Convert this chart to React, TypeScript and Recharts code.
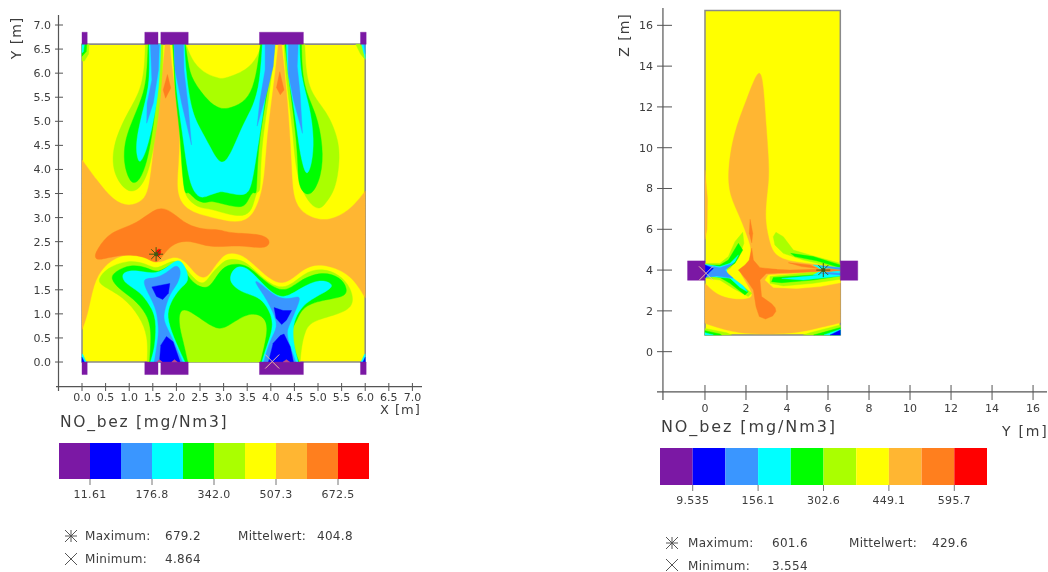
import React from "react";
import { Bar, BarChart, ReferenceLine, Scatter, ScatterChart, XAxis, YAxis } from "recharts";

type P = [number, number];
type Layer = [P[], string, boolean?];

const COLORS = {
  purple: "#7b18a4",
  blue: "#0000ff",
  lblue: "#3a96ff",
  cyan: "#00ffff",
  green: "#00ff00",
  lime: "#aaff00",
  yellow: "#ffff00",
  amber: "#ffb632",
  orange: "#ff7f1e",
  red: "#ff0000",
};
const legendColors = Object.values(COLORS);
const legendSteps = [1, 1, 1, 1, 1, 1, 1, 1, 1, 1];
const legendTickSteps = [1, 3, 5, 7, 9];
const legendLabelsXY = ["11.61", "176.8", "342.0", "507.3", "672.5"];
const legendLabelsYZ = ["9.535", "156.1", "302.6", "449.1", "595.7"];

const ticksXY = [0, 0.5, 1, 1.5, 2, 2.5, 3, 3.5, 4, 4.5, 5, 5.5, 6, 6.5, 7];
const ticksYZ = [0, 2, 4, 6, 8, 10, 12, 14, 16];

// ---- X/Y section, values in metres ----
const xyBox: P[] = [[0, 0], [6, 0], [6, 6.6], [0, 6.6]];
const xyAmber: P[] = [[0, 4.2], [0.31, 3.78], [0.66, 3.35], [1, 3.22], [1.3, 3.35], [1.41, 3.58], [1.48, 4.06], [1.55, 4.75], [1.62, 5.44], [1.72, 6.14], [1.76, 6.6], [1.86, 6.6], [1.9, 6.14], [2, 5.44], [2.08, 4.75], [2.04, 4.06], [2, 3.57], [2.11, 3.27], [2.36, 3.1], [2.64, 3.03], [3.06, 2.92], [3.4, 2.9], [3.65, 3.07], [3.83, 3.58], [3.88, 4.06], [3.93, 4.75], [4.02, 5.44], [4.11, 6.14], [4.16, 6.6], [4.23, 6.6], [4.28, 6.14], [4.35, 5.44], [4.4, 4.75], [4.44, 4.06], [4.46, 3.58], [4.54, 3.23], [4.83, 2.99], [5.25, 2.92], [5.67, 3.16], [5.85, 3.36], [6, 3.55], [6, 1.33], [5.9, 1.5], [5.65, 1.85], [5.1, 2.05], [4.7, 1.98], [4.25, 1.5], [3.75, 1.92], [3.4, 2.25], [3.06, 2.28], [2.92, 2.12], [2.78, 1.95], [2.64, 1.73], [2.43, 1.78], [2.2, 2.1], [1.93, 2.23], [1.58, 1.99], [1.3, 2.27], [0.8, 2.23], [0.45, 1.99], [0.24, 1.63], [0.13, 1.01], [0, 0.67]];
const xyOrange: P[] = [[0.27, 2.2], [0.31, 2.32], [0.59, 2.72], [1.16, 2.85], [1.62, 3.27], [1.93, 3.1], [2.22, 2.85], [2.57, 2.75], [2.92, 2.76], [3.13, 2.67], [3.77, 2.67], [4.02, 2.53], [3.9, 2.33], [3.34, 2.44], [2.71, 2.36], [2.29, 2.54], [1.93, 2.47], [1.72, 2.23], [1.58, 2.02], [1.37, 2.17], [1.09, 2.23], [0.66, 2.2], [0.31, 2.1]];
const xyRed: P[] = [[1.52, 2.2], [1.6, 2.36], [1.68, 2.34], [1.66, 2.18]];
const xyFlameL: P[] = [[1.81, 5.97], [1.88, 5.69], [1.77, 5.48], [1.72, 5.65]];
const xyFlameR: P[] = [[4.19, 6.03], [4.28, 5.65], [4.2, 5.55], [4.12, 5.7]];

const xyLimeLow: P[] = [[1.38, 0], [1.4, 0.53], [1.23, 0.94], [0.88, 1.36], [0.38, 1.6], [0.34, 1.72], [0.52, 1.95], [0.95, 2.12], [1.37, 2.05], [1.58, 1.9], [1.93, 2.15], [2.15, 2.02], [2.43, 1.65], [2.6, 1.62], [2.75, 1.85], [2.95, 2.05], [3.1, 2.15], [3.45, 2.12], [3.73, 1.82], [4.26, 1.42], [4.7, 1.87], [5.1, 1.95], [5.45, 1.82], [5.7, 1.55], [5.78, 1.15], [5.4, 0.98], [4.85, 0.85], [4.72, 0.63], [4.65, 0.32], [4.62, 0]];
const xyGreenLow: P[] = [[1.43, 0], [1.48, 0.66], [1.37, 1.01], [1.09, 1.32], [0.8, 1.5], [0.59, 1.74], [0.7, 1.88], [1.02, 2.03], [1.37, 1.97], [1.62, 1.83], [1.9, 2.06], [2.11, 2.01], [2.29, 1.7], [2.5, 1.55], [2.71, 1.53], [2.92, 1.91], [3.13, 2.04], [3.48, 2.04], [3.76, 1.77], [4.26, 1.39], [4.6, 1.7], [5.09, 1.89], [5.48, 1.76], [5.62, 1.53], [5.59, 1.35], [5.09, 1.29], [4.66, 1.15], [4.55, 0.84], [4.41, 0.66], [4.5, 0.25], [4.6, 0], [3.78, 0], [3.95, 0.66], [3.88, 0.94], [3.56, 1.05], [3.13, 0.77], [2.92, 0.66], [2.64, 0.8], [2.08, 1.22], [2.04, 0.8], [2.14, 0.45], [2.24, 0]];
const xyCyanLowL: P[] = [[0.84, 1.79], [0.91, 1.88], [1.16, 1.91], [1.58, 1.81], [1.86, 2.01], [2.04, 2.15], [2.18, 2.01], [2.29, 1.67], [2.08, 1.55], [1.86, 1.22], [1.79, 0.94], [1.93, 0.53], [2.18, 0], [1.45, 0], [1.55, 0.32], [1.58, 0.91], [1.44, 1.18], [1.23, 1.46], [0.91, 1.63]];
const xyBlueLowL: P[] = [[1.23, 1.76], [1.58, 1.72], [1.86, 1.91], [2, 2.03], [2.11, 1.91], [2.04, 1.63], [1.86, 1.43], [1.76, 1.11], [1.72, 0.91], [1.79, 0.73], [2, 0.32], [2.13, 0], [1.53, 0], [1.62, 0.53], [1.62, 0.73], [1.58, 1.08], [1.44, 1.36]];
const xyDeepL1: P[] = [[1.48, 1.56], [1.86, 1.63], [1.83, 1.43], [1.71, 1.3], [1.58, 1.36]];
const xyDeepL2: P[] = [[1.64, 0], [1.67, 0.35], [1.79, 0.53], [1.93, 0.42], [2.08, 0]];
const xyCyanLowR: P[] = [[3.12, 1.77], [3.24, 1.98], [3.45, 1.99], [3.66, 1.81], [3.95, 1.49], [4.26, 1.29], [4.62, 1.53], [5.04, 1.74], [5.39, 1.6], [5.11, 1.43], [4.62, 1.18], [4.41, 0.66], [4.58, 0], [3.81, 0], [3.91, 0.32], [4.09, 0.8], [3.91, 1.18], [3.73, 1.36], [3.42, 1.43], [3.17, 1.6]];
const xyBlueLowR: P[] = [[3.63, 1.69], [3.73, 1.69], [4.23, 1.22], [4.67, 1.43], [4.56, 1.15], [4.41, 0.8], [4.32, 0.62], [4.41, 0.32], [4.53, 0], [3.85, 0], [3.98, 0.46], [4.16, 0.73], [4.06, 1.01], [3.88, 1.36]];
const xyDeepR1: P[] = [[4.07, 1.13], [4.26, 1.07], [4.44, 1.07], [4.33, 0.87], [4.23, 0.78], [4.11, 0.91]];
const xyDeepR2: P[] = [[3.95, 0], [4.05, 0.39], [4.2, 0.55], [4.28, 0.58], [4.41, 0.32], [4.48, 0]];

const xyLimeTopL: P[] = [[1.34, 6.6], [1.31, 5.72], [0.95, 5.17], [0.63, 4.47], [0.66, 3.85], [1.05, 3.42], [1.37, 3.78], [1.51, 4.4], [1.65, 5.3], [1.71, 6.14], [1.72, 6.6]];
const xyGreenTopL: P[] = [[1.4, 6.6], [1.37, 5.8], [1.23, 5.38], [0.98, 4.82], [0.89, 4.47], [0.89, 4.06], [1.05, 3.66], [1.23, 3.78], [1.37, 4.13], [1.48, 4.68], [1.58, 5.44], [1.65, 6.6]];
const xyCyanTopL: P[] = [[1.42, 6.6], [1.44, 5.79], [1.31, 5.31], [1.14, 4.61], [1.16, 4.26], [1.23, 4.1], [1.37, 4.4], [1.51, 4.96], [1.64, 5.72], [1.67, 6.6]];
const xyBlueTopL: P[] = [[1.45, 6.6], [1.48, 5.86], [1.38, 5.38], [1.37, 4.96], [1.51, 5.38], [1.62, 6.07], [1.64, 6.6]];

const xyLimeMid: P[] = [[2.2, 6.6], [2.36, 6.2], [2.64, 5.97], [2.92, 5.89], [3, 5.88], [3.49, 6.05], [3.73, 6.35], [3.8, 6.6], [4.09, 6.6], [4.04, 6.14], [3.95, 5.44], [3.84, 4.75], [3.78, 4.06], [3.78, 3.49], [3.7, 3.58], [3.63, 3.23], [3.49, 3.02], [3.13, 3.05], [2.71, 3.19], [2.5, 3.19], [2.25, 3.36], [2.15, 3.57], [2.15, 4.05], [2.11, 4.75], [2, 5.58], [1.97, 6.14], [1.93, 6.6]];
const xyGreenMid: P[] = [[2.19, 6.6], [2.25, 6.2], [2.32, 5.86], [2.71, 5.37], [2.92, 5.27], [3.06, 5.25], [3.42, 5.37], [3.63, 5.68], [3.73, 6.2], [3.78, 6.6], [4.05, 6.6], [4, 6.14], [3.9, 5.44], [3.77, 4.75], [3.71, 4.06], [3.7, 3.42], [3.63, 3.58], [3.52, 3.36], [3.42, 3.19], [3.06, 3.26], [2.71, 3.36], [2.64, 3.29], [2.39, 3.36], [2.25, 3.57], [2.18, 3.43], [2.11, 4.05], [2.08, 4.75], [1.97, 5.58], [1.95, 6.14], [1.92, 6.6]];
const xyCyanMid: P[] = [[2.17, 6.6], [2.2, 6], [2.32, 5.2], [2.5, 4.85], [2.7, 4.5], [2.96, 4], [3.2, 4.42], [3.42, 4.96], [3.63, 5.31], [3.77, 5.8], [3.82, 6.6], [4.02, 6.6], [3.97, 6.14], [3.88, 5.44], [3.77, 4.75], [3.66, 4.06], [3.59, 3.67], [3.48, 3.42], [3, 3.54], [2.92, 3.54], [2.71, 3.47], [2.5, 3.38], [2.32, 3.6], [2.22, 4.05], [2.13, 4.75], [2, 5.58], [1.97, 6.14], [1.95, 6.6]];
const xyBlueMidL: P[] = [[1.95, 6.6], [1.97, 6.07], [2.11, 5.38], [2.32, 4.51], [2.25, 5.31], [2.16, 6.07], [2.15, 6.6]];
const xyBlueMidR: P[] = [[3.88, 6.6], [4.09, 6.6], [4.05, 6.14], [3.93, 5.65], [3.71, 4.9], [3.77, 5.44], [3.88, 6.07]];

const xyLimeTopR: P[] = [[4.28, 6.6], [4.72, 6.6], [4.76, 5.65], [5.18, 5.24], [5.48, 4.54], [5.43, 3.92], [5.35, 3.58], [5.21, 3.36], [5.04, 3.14], [4.83, 3.28], [4.65, 3.58], [4.52, 4.06], [4.47, 4.75], [4.38, 5.44], [4.3, 6.14]];
const xyGreenTopR: P[] = [[4.3, 6.6], [4.65, 6.6], [4.67, 5.72], [4.97, 5.17], [5.11, 4.47], [5.08, 3.85], [4.83, 3.38], [4.58, 3.62], [4.58, 4.06], [4.53, 4.75], [4.44, 5.44], [4.35, 6.14]];
const xyCyanTopR: P[] = [[4.33, 6.6], [4.61, 6.6], [4.63, 5.93], [4.83, 5.31], [4.92, 4.61], [4.87, 4.12], [4.76, 3.82], [4.65, 4.19], [4.58, 4.61], [4.48, 5.38], [4.35, 6]];
const xyBlueTopR: P[] = [[4.37, 6.6], [4.58, 6.6], [4.56, 6.14], [4.62, 5.58], [4.67, 4.75], [4.48, 5.44], [4.37, 6]];

const xyCorners: Layer[] = [
  [[[0, 6.6], [0.15, 6.6], [0.14, 6.4], [0.05, 6.25], [0, 6.25]], COLORS.lime, true],
  [[[0, 6.6], [0.1, 6.6], [0.09, 6.45], [0, 6.35]], COLORS.green, true],
  [[[0, 6.6], [0.05, 6.6], [0.03, 6.45], [0, 6.42]], COLORS.cyan, true],
  [[[5.8, 6.6], [6, 6.6], [6, 6.28], [5.9, 6.4]], COLORS.lime, true],
  [[[5.92, 6.6], [6, 6.6], [6, 6.3]], COLORS.cyan, true],
  [[[5.97, 6.6], [6, 6.6], [6, 6.4]], COLORS.lblue, true],
  [[[0, 0], [0.09, 0], [0.02, 0.15], [0, 0.17]], COLORS.cyan, true],
  [[[0, 0], [0.05, 0], [0, 0.1]], COLORS.blue, true],
  [[[6, 0], [5.91, 0], [5.98, 0.15], [6, 0.17]], COLORS.cyan, true],
  [[[6, 0], [5.95, 0], [6, 0.1]], COLORS.blue, true],
];
const xyInletSpans: P[] = [[0, 0.11], [1.33, 1.61], [1.67, 2.25], [3.76, 4.69], [5.9, 6.02]];
const xyInletRows: P[] = [[6.6, 6.85], [-0.26, 0]];
const xyNozzleBumps: P[] = [[1.58, 1.7], [1.9, 2.02], [4.26, 4.4]];

const xyLayers: Layer[] = [
  [xyAmber, COLORS.amber],
  [xyOrange, COLORS.orange],
  [xyRed, COLORS.red],
  [xyFlameL, COLORS.orange, true],
  [xyFlameR, COLORS.orange, true],
  [xyLimeLow, COLORS.lime],
  [xyGreenLow, COLORS.green],
  [xyCyanLowL, COLORS.cyan],
  [xyCyanLowR, COLORS.cyan],
  [xyBlueLowL, COLORS.lblue],
  [xyBlueLowR, COLORS.lblue],
  [xyDeepL1, COLORS.blue, true],
  [xyDeepL2, COLORS.blue, true],
  [xyDeepR1, COLORS.blue, true],
  [xyDeepR2, COLORS.blue, true],
  [xyLimeTopL, COLORS.lime],
  [xyGreenTopL, COLORS.green],
  [xyCyanTopL, COLORS.cyan],
  [xyBlueTopL, COLORS.lblue, true],
  [xyLimeMid, COLORS.lime],
  [xyGreenMid, COLORS.green],
  [xyCyanMid, COLORS.cyan],
  [xyBlueMidL, COLORS.lblue, true],
  [xyBlueMidR, COLORS.lblue, true],
  [xyLimeTopR, COLORS.lime],
  [xyGreenTopR, COLORS.green],
  [xyCyanTopR, COLORS.cyan],
  [xyBlueTopR, COLORS.lblue, true],
  ...xyCorners,
  ...xyInletRows.flatMap((row) =>
    xyInletSpans.map((s): Layer => [[[s[0], row[0]], [s[1], row[0]], [s[1], row[1]], [s[0], row[1]]], COLORS.purple, true])
  ),
  ...xyNozzleBumps.map((s): Layer => [[[s[0], 0], [(s[0] + s[1]) / 2, 0.05], [s[1], 0]], "#b84a8c", true]),
];

// ---- Y/Z section, values in metres ----
const yzBox: P[] = [[0, 0.82], [6.6, 0.82], [6.6, 16.73], [0, 16.73]];
const yzAmber: P[] = [[2.65, 14.05], [2.03, 12.34], [1.38, 10.7], [1.09, 8.74], [1.22, 7.6], [1.71, 6.62], [2.2, 5.31], [2.28, 4.9], [2.07, 4.08], [1.6, 4.08], [1.95, 3.5], [2.33, 2.86], [2.28, 2.6], [1.54, 2.53], [0.73, 2.7], [0.24, 3.1], [0, 3.35], [0, 1.39], [0.73, 1.14], [1.87, 0.85], [4.15, 0.85], [5.45, 1.14], [6.6, 1.42], [6.6, 4.17], [4.8, 4.33], [3.66, 4.53], [3.25, 4.98], [3.09, 5.64], [2.93, 6.45], [3, 7.6], [3.17, 8.74], [2.98, 11.03], [2.85, 13.16]];
const yzEdgeStrip: P[] = [[0, 8.9], [0.12, 7.5], [0.1, 6], [0, 5.5]];
const yzYellowLobe: P[] = [[2.93, 3.51], [3.09, 3.76], [4.8, 3.85], [6.6, 4.0], [6.6, 3.38], [5.6, 3.19], [4.47, 3.1], [3.33, 3.15]];
const yzOrange: P[] = [[2.28, 5.07], [2.36, 4.49], [2.68, 4.12], [3.5, 4.03], [3.5, 3.86], [3, 3.84], [2.68, 3.51], [2.76, 2.7], [3.25, 2.35], [3.42, 2.15], [3.46, 1.98], [3.3, 1.75], [2.95, 1.6], [2.65, 1.72], [2.49, 2.2], [2.36, 3.02], [2.03, 3.51], [1.63, 4], [1.95, 4.25], [2.16, 4.49]];
const yzStreamMid: P[] = [[3, 4.05], [4.15, 4], [5.53, 4.04], [6.6, 3.97], [5.53, 3.93], [4.15, 3.87], [3, 3.84]];
const yzStreak: P[] = [[2.2, 6.49], [2.33, 5.8], [2.28, 5.34], [2.16, 5.8]];
const yzStreamUp: P[] = [[4.07, 4.36], [5.12, 4.25], [5.53, 4.08], [4.72, 4.17]];
const yzLimeUp: P[] = [[3.46, 5.85], [3.82, 5.64], [4.31, 4.98], [5.12, 4.74], [6.6, 4.33], [6.6, 4.08], [4.8, 4.49], [3.82, 4.82], [3.41, 5.23], [3.33, 5.64]];
const yzGreenUp: P[] = [[4.18, 4.82], [5.28, 4.66], [6.6, 4.25], [6.6, 4.12], [5.44, 4.46], [4.39, 4.66]];
const yzLimeLow: P[] = [[3.17, 3.68], [5.28, 3.9], [6.6, 3.97], [6.6, 3.55], [5.28, 3.35], [3.82, 3.22], [3.17, 3.35]];
const yzGreenLow: P[] = [[3.33, 3.64], [5.28, 3.76], [6.6, 3.9], [6.6, 3.71], [5.28, 3.51], [3.74, 3.38], [3.25, 3.43]];
const yzCyanLow: P[] = [[3.74, 3.59], [6.6, 3.84], [6.6, 3.71], [4.8, 3.51]];
const yzCyanWall: P[] = [[5.28, 4.25], [6.6, 4.12], [6.6, 3.72], [5.28, 3.76], [5.7, 4]];
const yzBlueWallUp: P[] = [[5.61, 4.2], [6.6, 4.12], [6.6, 4.02], [6, 4.12]];
const yzBlueWallLow: P[] = [[5.61, 3.85], [6.6, 3.76], [6.6, 3.85], [6, 3.88]];
const yzCore: P[] = [[5.6, 4], [6, 4.08], [6.6, 4], [6, 3.92]];
const yzLimeL: P[] = [[1.84, 5.85], [1.9, 5.31], [1.63, 4.57], [1.22, 4.08], [0.73, 3.81], [1.3, 3.6], [1.95, 3.15], [2.28, 2.86], [2.11, 2.7], [1.38, 3.1], [0.73, 3.51], [0, 3.6], [0, 4.33], [0.73, 4.33], [1.14, 4.66], [1.46, 5.39]];
const yzGreenL: P[] = [[1.63, 5.31], [1.84, 4.98], [1.46, 4.33], [1.06, 4.08], [0.73, 3.85], [1.54, 3.43], [2.11, 2.94], [1.95, 2.78], [1.22, 3.35], [0.73, 3.64], [0, 3.76], [0, 4.25], [0.73, 4.25], [1.14, 4.49]];
const yzCyanL: P[] = [[1.63, 4.74], [1.46, 4.41], [1.06, 4.08], [1.06, 3.84], [1.87, 3.22], [2.07, 2.94], [1.71, 3.15], [1.22, 3.6], [0, 3.71], [0, 4.28], [0.73, 4.17], [1.22, 4.33]];
const yzBlueL: P[] = [[1.38, 4.33], [0.98, 4], [1.14, 3.81], [1.38, 3.6], [0.57, 3.71], [0, 3.64], [0, 4.25], [0.73, 4.12]];
const yzDeepL: P[] = [[0, 4.25], [0.41, 4.08], [0.16, 3.84], [0, 3.6]];
const yzCorners: Layer[] = [
  [[[0, 1.14], [1.06, 0.93], [1.3, 0.82], [0, 0.82]], COLORS.lime, true],
  [[[0, 1.03], [0.73, 0.87], [0.8, 0.82], [0, 0.82]], COLORS.green, true],
  [[[0, 0.93], [0.41, 0.82], [0, 0.82]], COLORS.cyan, true],
  [[[6.6, 1.31], [5.12, 0.93], [4.8, 0.82], [6.6, 0.82]], COLORS.lime, true],
  [[[6.6, 1.18], [5.6, 0.9], [5.3, 0.82], [6.6, 0.82]], COLORS.green, true],
  [[[6.6, 1.1], [5.8, 0.82], [6.6, 0.82]], COLORS.cyan, true],
  [[[6.6, 1.06], [6.1, 0.82], [6.6, 0.82]], COLORS.blue, true],
];
const yzInletL: P[] = [[-0.85, 3.5], [0, 3.5], [0, 4.45], [-0.85, 4.45]];
const yzInletR: P[] = [[6.6, 3.5], [7.45, 3.5], [7.45, 4.45], [6.6, 4.45]];

const yzLayers: Layer[] = [
  [yzAmber, COLORS.amber],
  [yzEdgeStrip, COLORS.amber, true],
  [yzYellowLobe, COLORS.yellow, true],
  [yzLimeUp, COLORS.lime, true],
  [yzGreenUp, COLORS.green, true],
  [yzLimeLow, COLORS.lime, true],
  [yzGreenLow, COLORS.green, true],
  [yzCyanLow, COLORS.cyan, true],
  [yzCyanWall, COLORS.cyan, true],
  [yzBlueWallUp, COLORS.lblue, true],
  [yzBlueWallLow, COLORS.lblue, true],
  [yzOrange, COLORS.orange, true],
  [yzStreamMid, COLORS.orange, true],
  [yzStreak, COLORS.orange, true],
  [yzStreamUp, COLORS.orange, true],
  [yzCore, COLORS.orange, true],
  [yzLimeL, COLORS.lime, true],
  [yzGreenL, COLORS.green, true],
  [yzCyanL, COLORS.cyan, true],
  [yzBlueL, COLORS.lblue, true],
  [yzDeepL, COLORS.blue, true],
  ...yzCorners,
  [yzInletL, COLORS.purple, true],
  [yzInletR, COLORS.purple, true],
];

const TEXT = "#3c3c3c";
const FONT = "'DejaVu Sans', sans-serif";
const noPoint = () => <g />;
const toRows = (pts: P[]) => pts.map(([x, y]) => ({ x, y }));

// points on the box edge are repeated so the smoothed outline still reaches the edge
function pinned(pts: P[], box: P[]) {
  const xs = box.map((p) => p[0]);
  const ys = box.map((p) => p[1]);
  return pts.flatMap((p) => {
    const edge = xs.includes(p[0]) || ys.includes(p[1]);
    return edge ? [p, p, p] : [p];
  });
}

function starMark(color: string, r: number) {
  return (p: any) => (
    <g stroke={color} strokeWidth={1}>
      <line x1={p.cx - r} x2={p.cx + r} y1={p.cy} y2={p.cy} />
      <line x1={p.cx - r * 0.7} x2={p.cx + r * 0.7} y1={p.cy - r * 0.7} y2={p.cy + r * 0.7} />
      <line x1={p.cx - r * 0.7} x2={p.cx + r * 0.7} y1={p.cy + r * 0.7} y2={p.cy - r * 0.7} />
      <line x1={p.cx} x2={p.cx} y1={p.cy - r} y2={p.cy + r} />
      <circle cx={p.cx} cy={p.cy} r={2} fill={color} stroke="none" />
    </g>
  );
}
function crossMark(color: string, r: number) {
  return (p: any) => (
    <g stroke={color} strokeWidth={1}>
      <line x1={p.cx - r} x2={p.cx + r} y1={p.cy - r} y2={p.cy + r} />
      <line x1={p.cx - r} x2={p.cx + r} y1={p.cy + r} y2={p.cy - r} />
    </g>
  );
}

function Panel(props: any) {
  const { left, width, height, margin, xDomain, yDomain, ticks, digits, xLine, yLine, box, layers, maxAt, minAt, xt, yt, topEdge } = props;
  const xTick = (p: any) => (
    <g>
      <line x1={p.x} x2={p.x} y1={p.y - xt.up} y2={p.y + xt.down} stroke="#555" />
      <text x={p.x} y={p.y + xt.label} textAnchor="middle" fontSize={11} fontFamily={FONT} fill={TEXT}>
        {p.payload.value.toFixed(digits)}
      </text>
    </g>
  );
  const yTick = (p: any) => (
    <g>
      <line x1={p.x - yt.out} x2={p.x + yt.in} y1={p.y} y2={p.y} stroke="#555" />
      <text x={p.x - yt.label} y={p.y + 4} textAnchor="end" fontSize={11} fontFamily={FONT} fill={TEXT}>
        {p.payload.value.toFixed(digits)}
      </text>
    </g>
  );
  return (
    <div style={{ position: "absolute", left, top: 0 }}>
      <ScatterChart width={width} height={height} margin={margin}>
        <XAxis type="number" dataKey="x" domain={xDomain} ticks={ticks.x} tick={xTick} tickLine={false} axisLine={false} tickSize={0} tickMargin={0} height={1} interval={0} allowDataOverflow />
        <YAxis type="number" dataKey="y" domain={yDomain} ticks={ticks.y} tick={yTick} tickLine={false} axisLine={false} tickSize={0} tickMargin={0} width={1} interval={0} allowDataOverflow />
        <Scatter data={toRows(box)} shape={noPoint} line={{ fill: COLORS.yellow, stroke: "#8a8a8a", strokeWidth: 1.5 }} lineJointType="linearClosed" isAnimationActive={false} />
        {layers.map(([pts, color, straight]: Layer, i: number) => (
          <Scatter
            key={i}
            data={toRows(straight ? pts : pinned(pts, box))}
            shape={noPoint}
            line={{ fill: color, stroke: color, strokeWidth: 0.4 }}
            lineJointType={straight ? "linearClosed" : "basisClosed"}
            isAnimationActive={false}
          />
        ))}
        <ReferenceLine segment={[{ x: xLine.at, y: yDomain[0] }, { x: xLine.at, y: yDomain[1] }]} stroke="#555" strokeWidth={1.2} ifOverflow="visible" />
        <ReferenceLine segment={[{ x: xDomain[0], y: yLine.at }, { x: xDomain[1], y: yLine.at }]} stroke="#555" strokeWidth={1.2} ifOverflow="visible" />
        {topEdge && <ReferenceLine segment={topEdge} stroke="#333" strokeWidth={1} ifOverflow="visible" />}
        <Scatter data={toRows([maxAt])} shape={starMark("#3d5a14", 7)} isAnimationActive={false} />
        <Scatter data={toRows([minAt])} shape={crossMark("#e8b8a8", 7)} isAnimationActive={false} />
      </ScatterChart>
    </div>
  );
}

function ColorBar({ left, top, width, height, labels }: any) {
  const rows = [Object.fromEntries(legendSteps.map((v, i) => ["s" + i, v]))];
  const tick = (p: any) => (
    <g>
      <line x1={p.x} x2={p.x} y1={p.y} y2={p.y + 6} stroke="#777" />
      <text x={p.x} y={p.y + 19} textAnchor="middle" fontSize={11} fontFamily={FONT} fill={TEXT} letterSpacing={0.3}>
        {labels[legendTickSteps.indexOf(p.payload.value)]}
      </text>
    </g>
  );
  return (
    <div style={{ position: "absolute", left, top }}>
      <BarChart layout="vertical" width={width} height={height + 28} data={rows} margin={{ top: 0, right: 0, bottom: 27, left: 0 }} barCategoryGap={0}>
        <XAxis type="number" domain={[0, 10]} ticks={legendTickSteps} tick={tick} tickLine={false} axisLine={false} tickSize={0} tickMargin={0} height={1} interval={0} />
        <YAxis type="category" hide />
        {legendColors.map((c, i) => (
          <Bar key={c} dataKey={"s" + i} stackId="a" fill={c} isAnimationActive={false} />
        ))}
      </BarChart>
    </div>
  );
}

function Label({ x, y, size = 12, spacing = 0.3, rotate, children }: any) {
  return (
    <div
      style={{
        position: "absolute",
        left: x,
        top: y,
        fontFamily: FONT,
        fontSize: size,
        lineHeight: "12px",
        letterSpacing: spacing,
        color: TEXT,
        whiteSpace: "nowrap",
        transform: rotate ? `translate(-50%,-50%) rotate(${rotate}deg)` : undefined,
      }}
    >
      {children}
    </div>
  );
}

function Glyph({ x, y, cross }: any) {
  const r = 6;
  return (
    <svg style={{ position: "absolute", left: x - 8, top: y - 8 }} width={16} height={16}>
      <g stroke="#555" strokeWidth={1}>
        <line x1={8 - r} x2={8 + r} y1={8 - r} y2={8 + r} />
        <line x1={8 - r} x2={8 + r} y1={8 + r} y2={8 - r} />
        {!cross && <line x1={8} x2={8} y1={2} y2={14} />}
        {!cross && <line x1={2} x2={14} y1={8} y2={8} />}
      </g>
    </svg>
  );
}

export default function App() {
  return (
    <div style={{ position: "absolute", left: 0, top: 0, width: 1048, height: 572, overflow: "hidden", background: "#fff", filter: "blur(0.45px)" }}>
      <Panel
        left={0}
        width={440}
        height={420}
        margin={{ top: 15, right: 18, bottom: 28, left: 55 }}
        xDomain={[-0.551, 7.203]}
        yDomain={[-0.602, 7.208]}
        ticks={{ x: ticksXY, y: ticksXY }}
        digits={1}
        xLine={{ at: -0.498 }}
        yLine={{ at: -0.513 }}
        box={xyBox}
        layers={xyLayers}
        maxAt={[1.57, 2.24]}
        minAt={[4.03, 0.01]}
        xt={{ up: 8, down: 0, label: 10 }}
        yt={{ out: 1, in: 7, label: 5 }}
        topEdge={[{ x: 0, y: 6.6 }, { x: 6, y: 6.6 }]}
      />
      <Panel
        left={620}
        width={428}
        height={420}
        margin={{ top: 8, right: 1, bottom: 19, left: 36 }}
        xDomain={[-2.34, 16.68]}
        yDomain={[-2.37, 16.85]}
        ticks={{ x: ticksYZ, y: ticksYZ }}
        digits={0}
        xLine={{ at: -2.05 }}
        yLine={{ at: -1.97 }}
        box={yzBox}
        layers={yzLayers}
        maxAt={[5.77, 4]}
        minAt={[0.05, 3.84]}
        xt={{ up: 15, down: 0, label: 12 }}
        yt={{ out: 0, in: 15, label: 4 }}
      />
      <ColorBar left={59} top={443} width={310} height={36} labels={legendLabelsXY} />
      <ColorBar left={660} top={448} width={327} height={37} labels={legendLabelsYZ} />

      <Label x={60} y={416} size={15.5} spacing={1.7}>NO_bez [mg/Nm3]</Label>
      <Label x={661} y={421} size={16} spacing={1.9}>NO_bez [mg/Nm3]</Label>
      <Label x={16} y={38} size={14} spacing={1} rotate={-90}>Y [m]</Label>
      <Label x={380} y={404} size={13} spacing={1}>X [m]</Label>
      <Label x={624} y={35} size={14} spacing={1} rotate={-90}>Z [m]</Label>
      <Label x={1002} y={425} size={14} spacing={1.8}>Y [m]</Label>

      <Glyph x={71} y={536} />
      <Label x={85} y={530}>Maximum:</Label>
      <Label x={165} y={530}>679.2</Label>
      <Label x={238} y={530}>Mittelwert:</Label>
      <Label x={317} y={530}>404.8</Label>
      <Glyph x={71} y={559} cross />
      <Label x={85} y={553}>Minimum:</Label>
      <Label x={165} y={553}>4.864</Label>

      <Glyph x={672} y={543} />
      <Label x={688} y={537}>Maximum:</Label>
      <Label x={772} y={537}>601.6</Label>
      <Label x={849} y={537}>Mittelwert:</Label>
      <Label x={932} y={537}>429.6</Label>
      <Glyph x={672} y={565} cross />
      <Label x={688} y={560}>Minimum:</Label>
      <Label x={772} y={560}>3.554</Label>
    </div>
  );
}
